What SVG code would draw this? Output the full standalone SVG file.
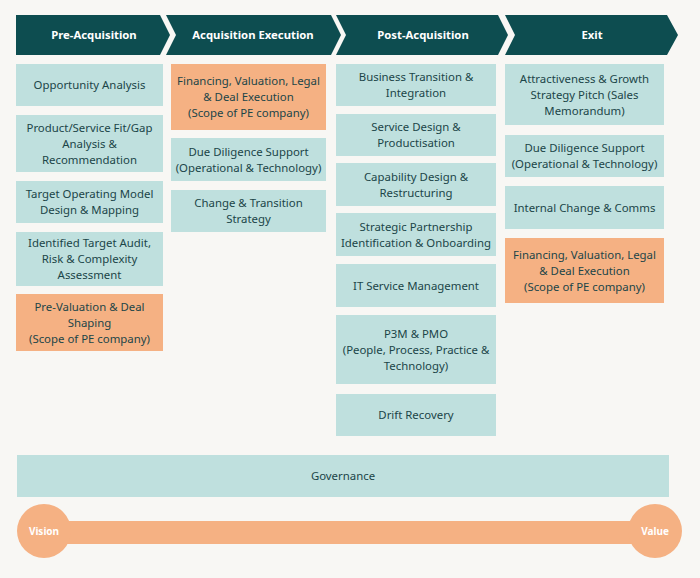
<svg xmlns="http://www.w3.org/2000/svg" width="700" height="578" viewBox="0 0 700 578">
<style>
.hd{fill:#0d4d50}
.ht{font-family:"Noto Sans","Open Sans",sans-serif;font-size:11.3px;font-weight:bold;fill:#ffffff;text-anchor:middle}
.bx{fill:#bfe0de}
.or{fill:#f5b183}
.t{font-family:"Noto Sans","Open Sans",sans-serif;font-size:11.4px;fill:#1b4548;text-anchor:middle}
.vt{font-family:"Noto Sans","Open Sans",sans-serif;font-size:10px;font-weight:bold;fill:#ffffff;text-anchor:middle}
</style>
<rect width="700" height="578" fill="#f8f7f4"/>
<g id="phase-pre"><polygon class="hd" points="16,15 160,15 170,35 160,55 16,55"/><text class="ht" x="94" y="39">Pre-Acquisition</text></g>
<g id="phase-exec"><polygon class="hd" points="166,15 331,15 341,35 331,55 166,55 176,35"/><text class="ht" x="253" y="39">Acquisition Execution</text></g>
<g id="phase-post"><polygon class="hd" points="336,15 498,15 508,35 498,55 336,55 346,35"/><text class="ht" x="423" y="39">Post-Acquisition</text></g>
<g id="phase-exit"><polygon class="hd" points="505,15 667,15 678,35 667,55 505,55 515,35"/><text class="ht" x="592" y="39">Exit</text></g>

<g id="c1-1"><rect class="bx" x="16" y="64" width="147" height="42"/><text class="t" x="89.5" y="89">Opportunity Analysis</text></g>
<g id="c1-2"><rect class="bx" x="16" y="115" width="147" height="57"/><text class="t" x="89.5" y="131.5">Product/Service Fit/Gap</text><text class="t" x="89.5" y="147.5">Analysis &amp;</text><text class="t" x="89.5" y="163.5">Recommendation</text></g>
<g id="c1-3"><rect class="bx" x="16" y="181" width="147" height="42"/><text class="t" x="89.5" y="198">Target Operating Model</text><text class="t" x="89.5" y="214">Design &amp; Mapping</text></g>
<g id="c1-4"><rect class="bx" x="16" y="232" width="147" height="54"/><text class="t" x="89.5" y="247">Identified Target Audit,</text><text class="t" x="89.5" y="263">Risk &amp; Complexity</text><text class="t" x="89.5" y="279">Assessment</text></g>
<g id="c1-5"><rect class="or" x="16" y="294" width="147" height="57"/><text class="t" x="89.5" y="310.5">Pre-Valuation &amp; Deal</text><text class="t" x="89.5" y="326.5">Shaping</text><text class="t" x="89.5" y="342.5">(Scope of PE company)</text></g>

<g id="c2-1"><rect class="or" x="171" y="64" width="155" height="66"/><text class="t" x="248.5" y="85">Financing, Valuation, Legal</text><text class="t" x="248.5" y="101">&amp; Deal Execution</text><text class="t" x="248.5" y="117">(Scope of PE company)</text></g>
<g id="c2-2"><rect class="bx" x="171" y="138" width="155" height="43"/><text class="t" x="248.5" y="155.5">Due Diligence Support</text><text class="t" x="248.5" y="171.5">(Operational &amp; Technology)</text></g>
<g id="c2-3"><rect class="bx" x="171" y="190" width="155" height="42"/><text class="t" x="248.5" y="207">Change &amp; Transition</text><text class="t" x="248.5" y="223">Strategy</text></g>

<g id="c3-1"><rect class="bx" x="336" y="64" width="160" height="42"/><text class="t" x="416" y="81">Business Transition &amp;</text><text class="t" x="416" y="97">Integration</text></g>
<g id="c3-2"><rect class="bx" x="336" y="114" width="160" height="42"/><text class="t" x="416" y="131">Service Design &amp;</text><text class="t" x="416" y="147">Productisation</text></g>
<g id="c3-3"><rect class="bx" x="336" y="163" width="160" height="43"/><text class="t" x="416" y="180.5">Capability Design &amp;</text><text class="t" x="416" y="196.5">Restructuring</text></g>
<g id="c3-4"><rect class="bx" x="336" y="213" width="160" height="43"/><text class="t" x="416" y="230.5">Strategic Partnership</text><text class="t" x="416" y="246.5">Identification &amp; Onboarding</text></g>
<g id="c3-5"><rect class="bx" x="336" y="264" width="160" height="43"/><text class="t" x="416" y="289.5">IT Service Management</text></g>
<g id="c3-6"><rect class="bx" x="336" y="315" width="160" height="69"/><text class="t" x="416" y="337.5">P3M &amp; PMO</text><text class="t" x="416" y="353.5">(People, Process, Practice &amp;</text><text class="t" x="416" y="369.5">Technology)</text></g>
<g id="c3-7"><rect class="bx" x="336" y="394" width="160" height="42"/><text class="t" x="416" y="419">Drift Recovery</text></g>

<g id="c4-1"><rect class="bx" x="505" y="64" width="159" height="61"/><text class="t" x="584.5" y="82.5">Attractiveness &amp; Growth</text><text class="t" x="584.5" y="98.5">Strategy Pitch (Sales</text><text class="t" x="584.5" y="114.5">Memorandum)</text></g>
<g id="c4-2"><rect class="bx" x="505" y="135" width="159" height="42"/><text class="t" x="584.5" y="152">Due Diligence Support</text><text class="t" x="584.5" y="168">(Operational &amp; Technology)</text></g>
<g id="c4-3"><rect class="bx" x="505" y="186" width="159" height="43"/><text class="t" x="584.5" y="211.5">Internal Change &amp; Comms</text></g>
<g id="c4-4"><rect class="or" x="505" y="238" width="159" height="65"/><text class="t" x="584.5" y="258.5">Financing, Valuation, Legal</text><text class="t" x="584.5" y="274.5">&amp; Deal Execution</text><text class="t" x="584.5" y="290.5">(Scope of PE company)</text></g>

<g id="governance"><rect class="bx" x="17" y="455" width="652" height="42"/><text class="t" x="343" y="480">Governance</text></g>

<g id="timeline">
<rect class="or" x="44" y="521" width="611" height="23"/>
<g id="vision"><ellipse class="or" cx="44" cy="531" rx="27" ry="27"/><text class="vt" x="44" y="534.5">Vision</text></g>
<g id="value"><ellipse class="or" cx="655" cy="531" rx="27" ry="27"/><text class="vt" x="655" y="534.5">Value</text></g>
</g>
</svg>
